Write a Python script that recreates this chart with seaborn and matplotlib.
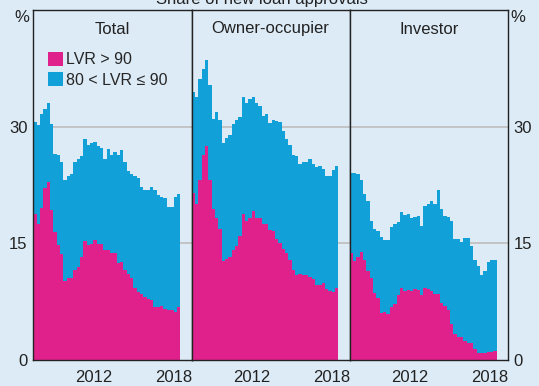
import numpy as np
import pandas as pd
import matplotlib
matplotlib.use("Agg")
import matplotlib.pyplot as plt
from matplotlib.patches import Patch
import seaborn as sns

# Quarterly observations, 2008 Q1 to 2018 Q4
periods = pd.period_range("2008Q1", "2018Q4", freq="Q")
dates = [p.year + (p.quarter - 1) / 4 + 0.125 for p in periods]

panel_names = ["Total", "Owner-occupier", "Investor"]

# Share of new loan approvals with LVR > 90 (per cent)
total_over_90 = [18.8, 17.5, 19.6, 22.1, 22.9, 19.3, 16.4, 14.8, 13.6, 10.1,
                 10.5, 10.5, 11.6, 11.9, 13.2, 15.3, 14.8, 14.9, 15.4, 14.9,
                 14.9, 14.2, 14.2, 13.7, 13.7, 12.5, 12.6, 11.6, 11.1, 10.5,
                 9.3, 8.7, 8.5, 8.1, 7.9, 7.7, 6.8, 6.8, 7.0, 6.6,
                 6.4, 6.4, 6.2, 6.8]
owner_over_90 = [21.5, 20.1, 23.1, 26.3, 27.5, 23.2, 19.4, 18.3, 16.9, 12.7,
                 13.0, 13.2, 14.2, 14.7, 16.0, 18.8, 17.9, 18.3, 19.2, 18.3,
                 18.3, 17.5, 17.5, 16.7, 16.6, 15.5, 15.1, 14.3, 13.7, 12.8,
                 11.6, 10.9, 11.0, 10.9, 10.9, 10.7, 10.4, 9.6, 9.6, 9.9,
                 9.1, 8.9, 8.7, 9.2]
investor_over_90 = [13.8, 12.7, 13.2, 13.9, 12.9, 11.4, 10.5, 8.6, 8.0, 6.1,
                    6.2, 5.9, 6.8, 7.2, 8.4, 9.3, 8.9, 9.0, 8.9, 9.1,
                    9.0, 8.4, 9.2, 9.1, 8.9, 8.5, 8.5, 7.3, 6.9, 6.4,
                    4.6, 3.3, 3.0, 3.0, 2.4, 2.2, 2.2, 1.4, 0.9, 0.9,
                    0.9, 1.0, 1.0, 1.1]

# Share of new loan approvals with 80 < LVR <= 90 (per cent)
total_80_90 = [11.8, 12.7, 12.0, 10.2, 10.2, 11.0, 10.1, 11.5, 11.9, 13.1,
               13.1, 13.4, 13.9, 13.9, 13.0, 13.1, 12.8, 13.0, 12.6, 12.6,
               12.4, 11.6, 12.9, 12.6, 13.1, 13.8, 14.4, 13.8, 13.2, 13.4,
               14.3, 14.7, 13.7, 13.8, 14.0, 14.6, 15.1, 14.4, 13.9, 14.2,
               13.3, 13.3, 14.7, 14.5]
owner_80_90 = [13.0, 13.7, 13.0, 11.1, 11.1, 12.2, 11.6, 13.6, 13.9, 15.2,
               15.6, 15.7, 16.1, 16.1, 15.3, 15.0, 15.1, 15.2, 14.6, 14.8,
               14.3, 13.9, 14.1, 13.8, 14.3, 15.2, 15.5, 15.2, 14.7, 14.8,
               14.7, 15.3, 14.2, 14.5, 14.6, 15.1, 14.8, 15.2, 15.3, 14.7,
               14.5, 14.7, 15.7, 15.7]
investor_80_90 = [10.2, 11.3, 10.7, 9.3, 8.5, 9.0, 7.4, 8.2, 8.6, 9.7,
                  9.2, 9.5, 10.3, 10.3, 9.4, 9.7, 9.7, 9.8, 9.3, 9.3,
                  9.5, 8.8, 10.6, 10.9, 11.6, 11.6, 13.3, 12.1, 11.6, 12.0,
                  13.3, 12.3, 12.5, 12.2, 13.3, 13.5, 12.5, 11.5, 11.2, 10.0,
                  10.5, 11.6, 11.8, 11.8]

over_90 = [total_over_90, owner_over_90, investor_over_90]
band_80_90 = [total_80_90, owner_80_90, investor_80_90]

label_hi = "LVR > 90"
label_mid = "80 < LVR \u2264 90"

sns.set_style("white")
plt.rcParams["font.family"] = ["Liberation Sans", "DejaVu Sans"]
plt.rcParams["font.size"] = 12

BG = "#DCEBF6"
MAGENTA = "#E0218C"
BLUE = "#12A0D8"
INK = "#222222"
GRID = "#BDBDBD"

W, H = 539, 386
fig = plt.figure(figsize=(W / 100, H / 100), dpi=100, facecolor=BG)
axes = fig.subplots(1, 3, sharey=True)
fig.subplots_adjust(left=33.3 / W, right=508 / W, top=1 - 10 / H,
                    bottom=1 - 360 / H, wspace=0)

for i, (ax, name, hi, mid) in enumerate(zip(axes, panel_names, over_90, band_80_90)):
    ax.set_facecolor(BG)
    df = pd.DataFrame({"date": dates,
                       "over_80": np.add(hi, mid),
                       "over_90": hi})
    # blue bar to the top of the stack, magenta segment drawn over its base
    sns.barplot(data=df, x="date", y="over_80", native_scale=True, width=1,
                color=BLUE, saturation=1, errorbar=None, linewidth=0,
                ax=ax, zorder=2)
    sns.barplot(data=df, x="date", y="over_90", native_scale=True, width=1,
                color=MAGENTA, saturation=1, errorbar=None, linewidth=0,
                ax=ax, zorder=3)
    for level in (15, 30):
        ax.axhline(level, color=GRID, lw=1.2, zorder=1)

    ax.set_xlabel("")
    ax.set_ylabel("")
    ax.set_xlim(2008.0, 2019.85)
    ax.set_ylim(0, 45)
    ax.set_xticks(range(2009, 2020))
    ax.set_xticks([2012.5, 2018.5], minor=True)
    ax.set_xticklabels([], minor=False)
    ax.set_xticklabels(["2012", "2018"], minor=True)
    ax.tick_params(axis="x", which="major", direction="in", length=4,
                   width=1, color=INK, labelbottom=False)
    ax.tick_params(axis="x", which="minor", length=0, pad=7,
                   labelsize=12, labelcolor=INK)
    ax.set_yticks([0, 15, 30])
    ax.tick_params(axis="y", length=0, labelsize=12, labelcolor=INK,
                   pad=4, labelleft=(i == 0), labelright=(i == 2))
    for sp in ax.spines.values():
        sp.set_visible(True)
        sp.set_color(INK)
        sp.set_linewidth(1)
        sp.set_zorder(5)
    ax.text(0.5, 1 - 19 / 350, name, transform=ax.transAxes, ha="center",
            va="center", fontsize=12, color=INK)

handles = [Patch(facecolor=MAGENTA, edgecolor="none", label=label_hi),
           Patch(facecolor=BLUE, edgecolor="none", label=label_mid)]
axes[0].legend(handles=handles, loc="upper left",
               bbox_to_anchor=(0.09, 0.88), frameon=False, fontsize=11.5,
               handlelength=0.95, handleheight=0.95, handletextpad=0.2,
               labelspacing=0.3, borderpad=0, borderaxespad=0)

fig.text(22 / W, 1 - 18 / H, "%", ha="center", va="center", fontsize=12, color=INK)
fig.text(518 / W, 1 - 18 / H, "%", ha="center", va="center", fontsize=12, color=INK)
fig.text(262 / W, 1 - 4 / H, "Share of new loan approvals", ha="center",
         va="baseline", fontsize=12, color=INK)

fig.savefig("out.png", dpi=100, facecolor=BG)
